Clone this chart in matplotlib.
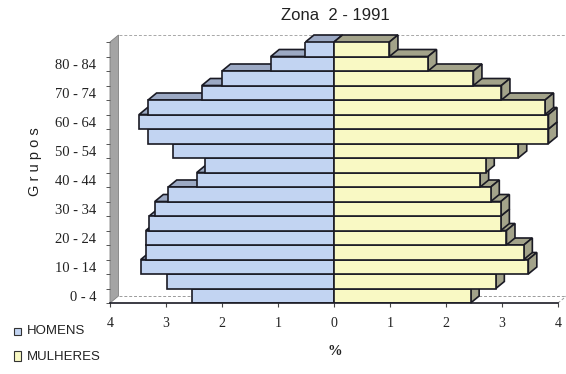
import matplotlib
matplotlib.use("Agg")
import matplotlib.pyplot as plt
from matplotlib.patches import Polygon, Rectangle

plt.rcParams['font.family'] = ['Liberation Sans', 'DejaVu Sans']

# faixas etárias (de baixo para cima) e percentagens por sexo
grupos = ["0 - 4", "5 - 9", "10 - 14", "15 - 19", "20 - 24", "25 - 29",
          "30 - 34", "35 - 39", "40 - 44", "45 - 49", "50 - 54", "55 - 59",
          "60 - 64", "65 - 69", "70 - 74", "75 - 79", "80 - 84", "85 +"]
homens = [2.54, 2.99, 3.45, 3.36, 3.36, 3.30, 3.20, 2.96, 2.45,
          2.30, 2.87, 3.32, 3.48, 3.32, 2.36, 2.00, 1.13, 0.51]
mulheres = [2.44, 2.89, 3.47, 3.39, 3.08, 2.98, 2.98, 2.80, 2.61,
            2.71, 3.29, 3.83, 3.83, 3.77, 2.99, 2.49, 1.68, 0.99]
series = ["HOMENS", "MULHERES"]
xticks = [-4, -3, -2, -1, 0, 1, 2, 3, 4]

cor_h, cor_h_topo = "#c2d4f2", "#9ca9c4"
cor_m, cor_m_lado = "#f9f9c4", "#a3a38a"
cor_linha = "#1a1a24"

fig = plt.figure(figsize=(5.66, 3.74), dpi=100)
ax = fig.add_axes([110 / 566, 71 / 374, 448 / 566, 261 / 374])
ax.set_xlim(-4, 4)
ax.set_ylim(-0.5, len(grupos) - 0.5)

# profundidade do efeito 3D em unidades de dados
dx, dy = 8.5 / 56, 7 / 14.5
y0, y1 = -0.5, len(grupos) - 0.5

# parede lateral e chão
ax.add_patch(Polygon([(-4, y0), (-4 + dx, y0 + dy), (-4 + dx, y1 + dy), (-4, y1)],
                     closed=True, fc="#a4a4a4", ec="#808080", lw=0.6,
                     clip_on=False, zorder=1))
ax.plot([-4 + dx, 4 + dx], [y0 + dy, y0 + dy], ls=(0, (3, 2)), color="#9a9a9a",
        lw=0.7, clip_on=False, zorder=1)
ax.plot([4, 4 + dx], [y0, y0 + dy], ls=(0, (3, 2)), color="#9a9a9a",
        lw=0.7, clip_on=False, zorder=1)
ax.plot([-4 + dx, 4 + 0.15], [y1 + dy, y1 + dy], ls=(0, (3, 2)), color="#a8a8a8",
        lw=0.7, clip_on=False, zorder=1)

# faces de topo e laterais, de baixo para cima
for i, (h, m) in enumerate(zip(homens, mulheres)):
    bot, top = i - 0.5, i + 0.5
    ax.add_patch(Polygon([(-h, top), (-h + dx, top + dy), (dx, top + dy), (0, top)],
                         closed=True, fc=cor_h_topo, ec=cor_linha, lw=1.2,
                         clip_on=False, zorder=3 + i * 0.01))
    ax.add_patch(Polygon([(0, top), (dx, top + dy), (m + dx, top + dy), (m, top)],
                         closed=True, fc=cor_m_lado, ec=cor_linha, lw=1.2,
                         clip_on=False, zorder=3 + i * 0.01))
    ax.add_patch(Polygon([(m, bot), (m + dx, bot + dy), (m + dx, top + dy), (m, top)],
                         closed=True, fc=cor_m_lado, ec=cor_linha, lw=1.2,
                         clip_on=False, zorder=3 + i * 0.01))

# faces frontais
pos = list(range(len(grupos)))
ax.barh(pos, [-v for v in homens], height=1, color=cor_h, edgecolor=cor_linha,
        linewidth=1.2, zorder=5)
ax.barh(pos, mulheres, height=1, color=cor_m, edgecolor=cor_linha,
        linewidth=1.2, zorder=5)

for s in ["top", "right", "left"]:
    ax.spines[s].set_visible(False)
ax.spines["bottom"].set_color(cor_linha)
ax.spines["bottom"].set_linewidth(1.2)
ax.spines["bottom"].set_zorder(6)

ax.set_xticks(xticks)
ax.set_xticklabels([str(abs(t)) for t in xticks], family="Liberation Serif",
                   fontsize=10, color="#222222")
ax.tick_params(axis="x", length=3, width=0.8, pad=7, color="#444444")

ax.set_yticks(pos[::2])
ax.set_yticklabels(grupos[::2], family="Liberation Serif", fontsize=10.5,
                   color="#222222")
ax.set_yticks([p - 0.5 for p in pos] + [y1], minor=True)
ax.tick_params(axis="y", which="major", length=0, pad=10)
ax.tick_params(axis="y", which="minor", length=3, width=0.7, color="#555555")

fig.text(0.592, 0.958, "Zona  2 - 1991", ha="center", va="center", fontsize=12,
         color="#222222")
fig.text(0.062, 0.567, "G r u p o s", rotation=90, ha="center", va="center",
         fontsize=10.5, color="#222222")
fig.text(0.592, 0.059, "%", ha="center", va="center", family="Liberation Serif",
         fontsize=10.5, fontweight="bold", color="#222222")

# legenda
for k, (nome, cor) in enumerate(zip(series, [cor_h, cor_m])):
    yc = 1 - (331 + 26 * k) / 374
    fig.patches.append(Rectangle((14 / 566, yc - 3.5 / 374), 7 / 566, 7 / 374 + k * 3 / 374,
                                 transform=fig.transFigure, fc=cor, ec="#333333",
                                 lw=0.8))
    fig.text(27 / 566, yc, nome, ha="left", va="center", fontsize=9.5,
             color="#222222")

fig.savefig("out.png", dpi=100)
